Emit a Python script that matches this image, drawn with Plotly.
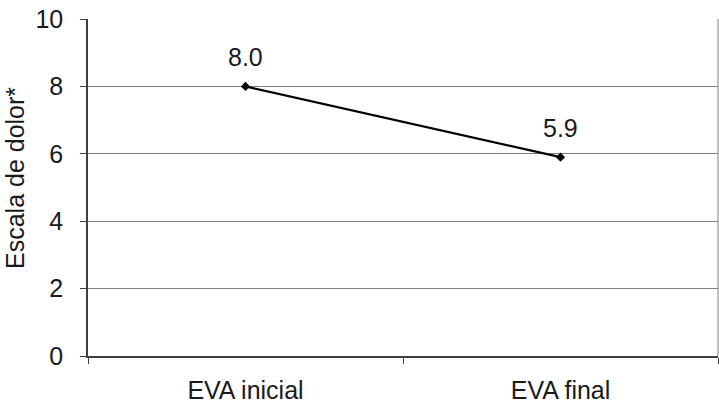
import plotly.graph_objects as go

categories = ["EVA inicial", "EVA final"]
values = [8.0, 5.9]
labels = ["8.0", "5.9"]
y_ticks = [0, 2, 4, 6, 8, 10]
y_title = "Escala de dolor*"

fig = go.Figure()
fig.add_trace(go.Scatter(
    x=categories, y=values, mode="lines+markers",
    line=dict(color="black", width=2.2),
    marker=dict(symbol="diamond", size=7, color="black"),
    showlegend=False, cliponaxis=False,
))
for c, v, t in zip(categories, values, labels):
    fig.add_annotation(x=c, y=v, text=t, showarrow=False, yanchor="bottom",
                       yshift=13, font=dict(size=25, color="#1a1a1a"))

fig.add_annotation(xref="paper", yref="paper", x=-0.116, y=0.528, text=y_title,
                   textangle=-90, showarrow=False, xanchor="center", yanchor="middle",
                   font=dict(size=25, color="#1a1a1a"))

fig.add_shape(type="line", xref="paper", yref="paper", x0=1, x1=1, y0=0, y1=1,
              line=dict(color="#808080", width=1))

fig.update_layout(
    width=719, height=409,
    margin=dict(l=88, r=1, t=19, b=53),
    paper_bgcolor="white", plot_bgcolor="white",
    font=dict(family="Liberation Sans, Arial, sans-serif", size=25, color="#1a1a1a"),
    xaxis=dict(
        type="category", range=[-0.5, 1.5], tickson="boundaries",
        showgrid=False, ticks="outside", ticklen=6, tickcolor="#404040",
        showline=True, linecolor="#404040", linewidth=1.5,
        ticklabelstandoff=11, zeroline=False,
    ),
    yaxis=dict(
        range=[0, 10], tickvals=y_ticks, showgrid=True, gridcolor="#808080", gridwidth=1.3,
        ticks="outside", ticklen=6, tickcolor="#404040",
        showline=True, linecolor="#404040", linewidth=1.5, zeroline=False,
        ticklabelstandoff=12,
    ),
)
fig.write_html("out.html")
